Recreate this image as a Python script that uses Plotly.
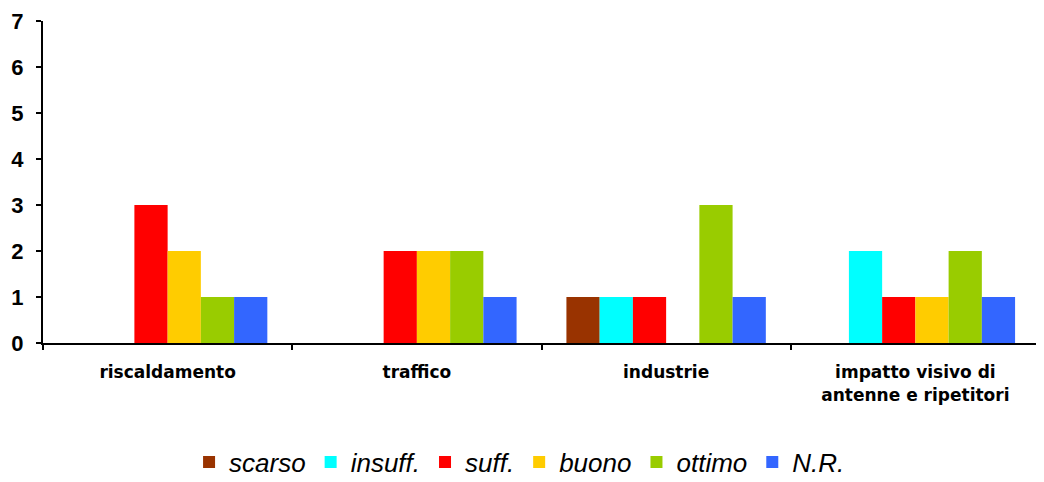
import plotly.graph_objects as go

categories = ["riscaldamento", "traffico", "industrie", "impatto visivo di<br>antenne e ripetitori"]
series_names = ["scarso", "insuff.", "suff.", "buono", "ottimo", "N.R."]
scarso = [0, 0, 1, 0]
insuff = [0, 0, 1, 2]
suff = [3, 2, 1, 1]
buono = [2, 2, 0, 1]
ottimo = [1, 2, 3, 2]
nr = [1, 1, 1, 1]
values = [scarso, insuff, suff, buono, ottimo, nr]
colors = ["#993300", "#00FFFF", "#FF0000", "#FFCC00", "#99CC00", "#3366FF"]

fig = go.Figure()
for name, vals, col in zip(series_names, values, colors):
    fig.add_trace(go.Bar(x=categories, y=vals, name=name, marker=dict(color=col, line=dict(width=0))))

fig.update_layout(
    width=1044, height=482,
    margin=dict(l=35, r=12, t=13, b=147, autoexpand=False),
    barmode="group", bargap=0.2, bargroupgap=0,
    plot_bgcolor="white", paper_bgcolor="white",
    font=dict(family="Liberation Sans, Arial, sans-serif", color="black"),
    legend=dict(orientation="h", x=0.478, xanchor="center", y=-0.37, yanchor="middle",
                font=dict(size=26, style="italic"), itemwidth=30, tracegroupgap=0),
    xaxis=dict(showline=True, linecolor="black", linewidth=2, ticks="outside", tickson="boundaries",
               ticklen=5, tickcolor="black", tickwidth=2, automargin=False, ticklabelstandoff=13,
               tickfont=dict(size=17, weight="bold", family="DejaVu Sans, sans-serif")),
    yaxis=dict(range=[0, 7], dtick=1, showgrid=False, zeroline=False, showline=True, linecolor="black",
               linewidth=2, ticks="outside", ticklen=5, tickcolor="black", tickwidth=2,
               automargin=False, ticklabelstandoff=8,
               tickfont=dict(size=22, weight="bold")),
)
fig.write_html("out.html")
